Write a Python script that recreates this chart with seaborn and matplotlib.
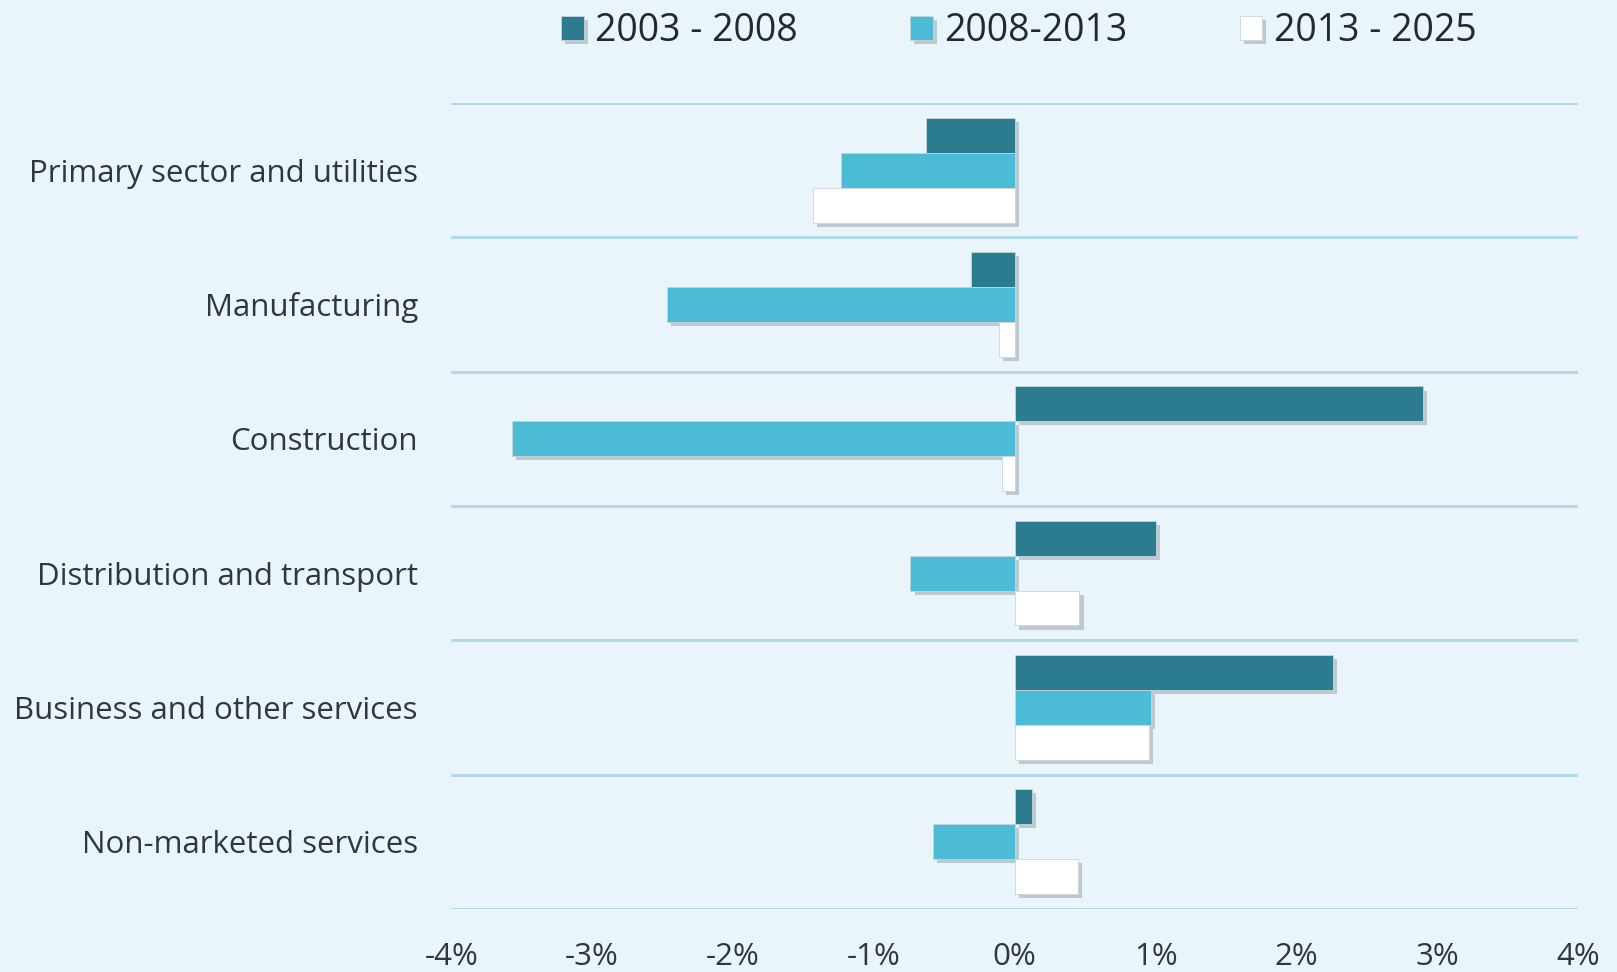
import numpy as np
import pandas as pd
import seaborn as sns
import matplotlib.pyplot as plt
import matplotlib.patheffects as pe
from matplotlib.ticker import PercentFormatter

sectors = ['Primary sector and utilities', 'Manufacturing', 'Construction',
           'Distribution and transport', 'Business and other services',
           'Non-marketed services']
periods = ['2003 - 2008', '2008-2013', '2013 - 2025']
p2003_2008 = [-0.63, -0.31, 2.90, 1.00, 2.26, 0.12]
p2008_2013 = [-1.23, -2.47, -3.57, -0.74, 0.97, -0.58]
p2013_2025 = [-1.43, -0.11, -0.09, 0.46, 0.95, 0.45]

df = pd.DataFrame({
    'Sector': sectors * 3,
    'Period': [periods[0]] * 6 + [periods[1]] * 6 + [periods[2]] * 6,
    'Growth': p2003_2008 + p2008_2013 + p2013_2025,
})

bg = '#eaf4fb'
sns.set_style('white')
plt.rcParams['font.family'] = ['Open Sans', 'DejaVu Sans']
plt.rcParams['axes.unicode_minus'] = False

fig = plt.figure(figsize=(16.17, 9.72), dpi=100, facecolor=bg)
ax = fig.add_axes([0.279, 0.065, 0.697, 0.829], facecolor=bg)

palette = ['#2b7c8f', '#4bbbd6', '#ffffff']
sns.barplot(data=df, x='Growth', y='Sector', hue='Period', order=sectors,
            hue_order=periods, palette=palette, orient='h', width=0.78,
            saturation=1, edgecolor='#c8d4dc', linewidth=0.6, ax=ax)

shadow = [pe.SimplePatchShadow(offset=(3, -3), shadow_rgbFace='#7a8a94', alpha=0.4),
          pe.Normal()]
for p in ax.patches:
    p.set_path_effects(shadow)

ax.set_xlim(-4, 4)
ax.set_ylim(len(sectors) - 0.5, -0.5)
ax.xaxis.set_major_formatter(PercentFormatter(decimals=0))
ax.set_xticks(np.arange(-4, 5, 1))
ax.set_yticks(np.arange(-0.5, len(sectors), 1), minor=True)
ax.grid(axis='y', which='minor', color='#b3dbe7', linewidth=2.2)
ax.grid(axis='x', visible=False)
ax.set_axisbelow(True)
for s in ax.spines.values():
    s.set_visible(False)
ax.tick_params(axis='both', which='both', length=0)
ax.tick_params(axis='y', pad=24, labelsize=22.5, labelcolor='#2f383e')
ax.tick_params(axis='x', pad=24, labelsize=22.5, labelcolor='#2f383e')
ax.set_xlabel('')
ax.set_ylabel('')

handles, labels = ax.get_legend_handles_labels()
ax.legend_.remove()
fig.legend(handles, labels, loc='center', bbox_to_anchor=(0.63, 0.968),
           ncol=3, frameon=False, fontsize=27, handlelength=0.6,
           handleheight=0.6, handletextpad=0.3, columnspacing=3.0,
           labelcolor='#222a30')

fig.savefig('out.png', dpi=100, facecolor=bg)
